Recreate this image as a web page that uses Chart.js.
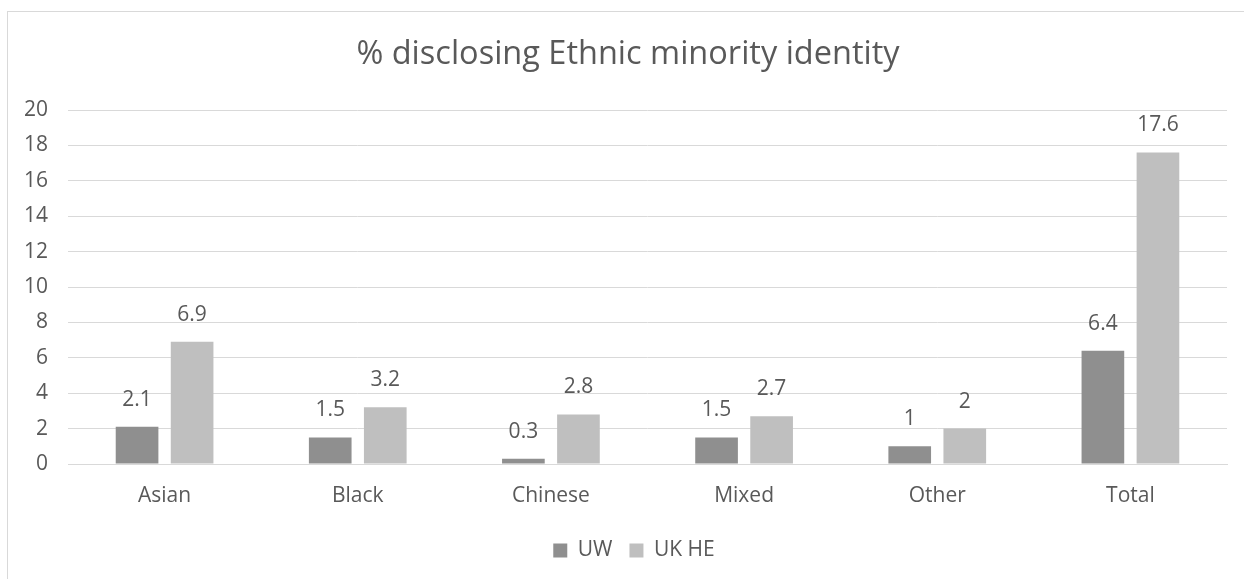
<!DOCTYPE html>
<html>
<head>
<meta charset="utf-8">
<script src="https://cdn.jsdelivr.net/npm/chart.js@4/dist/chart.umd.min.js"></script>
<style>
  html, body { margin: 0; padding: 0; background: #ffffff; }
  #wrap { position: relative; width: 1244px; height: 579px; overflow: hidden; }
  #frame { position: absolute; left: 7px; top: 11px; width: 1300px; height: 700px; border: 1px solid #d9d9d9; }
  #c { position: absolute; left: 0; top: 0; }
</style>
</head>
<body>
<div id="wrap">
  <div id="frame"></div>
  <canvas id="c" width="1244" height="579"></canvas>
</div>
<script>
// Share of staff disclosing an ethnic minority identity (%)
const categories = ['Asian', 'Black', 'Chinese', 'Mixed', 'Other', 'Total'];
const uwValues = [2.1, 1.5, 0.3, 1.5, 1, 6.4];
const ukHeValues = [6.9, 3.2, 2.8, 2.7, 2, 17.6];
const yTickValues = [0, 2, 4, 6, 8, 10, 12, 14, 16, 18, 20];

const TEXT = '#595959';
const GRID = '#d9d9d9';
const FONT = '"Open Sans", Lato, sans-serif';
const LABEL_SIZE = 21;

// Writes each bar's value above it
const valueLabels = {
  id: 'valueLabels',
  afterDatasetsDraw(chart) {
    const ctx = chart.ctx;
    ctx.save();
    ctx.fillStyle = TEXT;
    ctx.font = LABEL_SIZE + 'px ' + FONT;
    ctx.textAlign = 'center';
    ctx.textBaseline = 'middle';
    chart.data.datasets.forEach((ds, i) => {
      const meta = chart.getDatasetMeta(i);
      meta.data.forEach((bar, j) => {
        ctx.fillText(String(ds.data[j]), bar.x, bar.y - 27);
      });
    });
    ctx.restore();
  }
};

// Centres the title and legend over the plot rather than the whole canvas
const blockShift = {
  id: 'blockShift',
  afterLayout(chart) {
    if (chart.titleBlock) {
      chart.titleBlock.left += 16;
    }
    if (chart.legend) {
      chart.legend.left += 28;
    }
  }
};

new Chart(document.getElementById('c'), {
  type: 'bar',
  data: {
    labels: categories,
    datasets: [
      { label: 'UW', data: uwValues, backgroundColor: '#8f8f8f',
        categoryPercentage: 0.57, barPercentage: 0.775 },
      { label: 'UK HE', data: ukHeValues, backgroundColor: '#bfbfbf',
        categoryPercentage: 0.57, barPercentage: 0.775 }
    ]
  },
  options: {
    responsive: false,
    animation: false,
    devicePixelRatio: 1,
    layout: { padding: { left: 13, right: 17, top: 1, bottom: 8 } },
    plugins: {
      title: {
        display: true,
        text: '% disclosing Ethnic minority identity',
        color: TEXT,
        font: { family: FONT, size: 32.5, weight: 'normal' },
        padding: { top: 34, bottom: 36 }
      },
      legend: {
        position: 'bottom',
        labels: {
          color: TEXT,
          font: { family: FONT, size: LABEL_SIZE },
          boxWidth: 14,
          boxHeight: 14,
          padding: 17
        }
      },
      tooltip: { enabled: false }
    },
    scales: {
      x: {
        grid: { display: false, drawTicks: false },
        border: { color: GRID, width: 1 },
        ticks: { color: TEXT, font: { family: FONT, size: LABEL_SIZE }, padding: 19 },
        afterFit(scale) { scale.height = 59; }
      },
      y: {
        min: 0,
        max: 20,
        afterBuildTicks(scale) { scale.ticks = yTickValues.map(v => ({ value: v })); },
        grid: { color: GRID, lineWidth: 1, drawTicks: false },
        border: { display: false },
        ticks: { color: TEXT, font: { family: FONT, size: LABEL_SIZE }, padding: 20 },
        afterFit(scale) { scale.width = 55; }
      }
    }
  },
  plugins: [valueLabels, blockShift]
});
</script>
</body>
</html>
